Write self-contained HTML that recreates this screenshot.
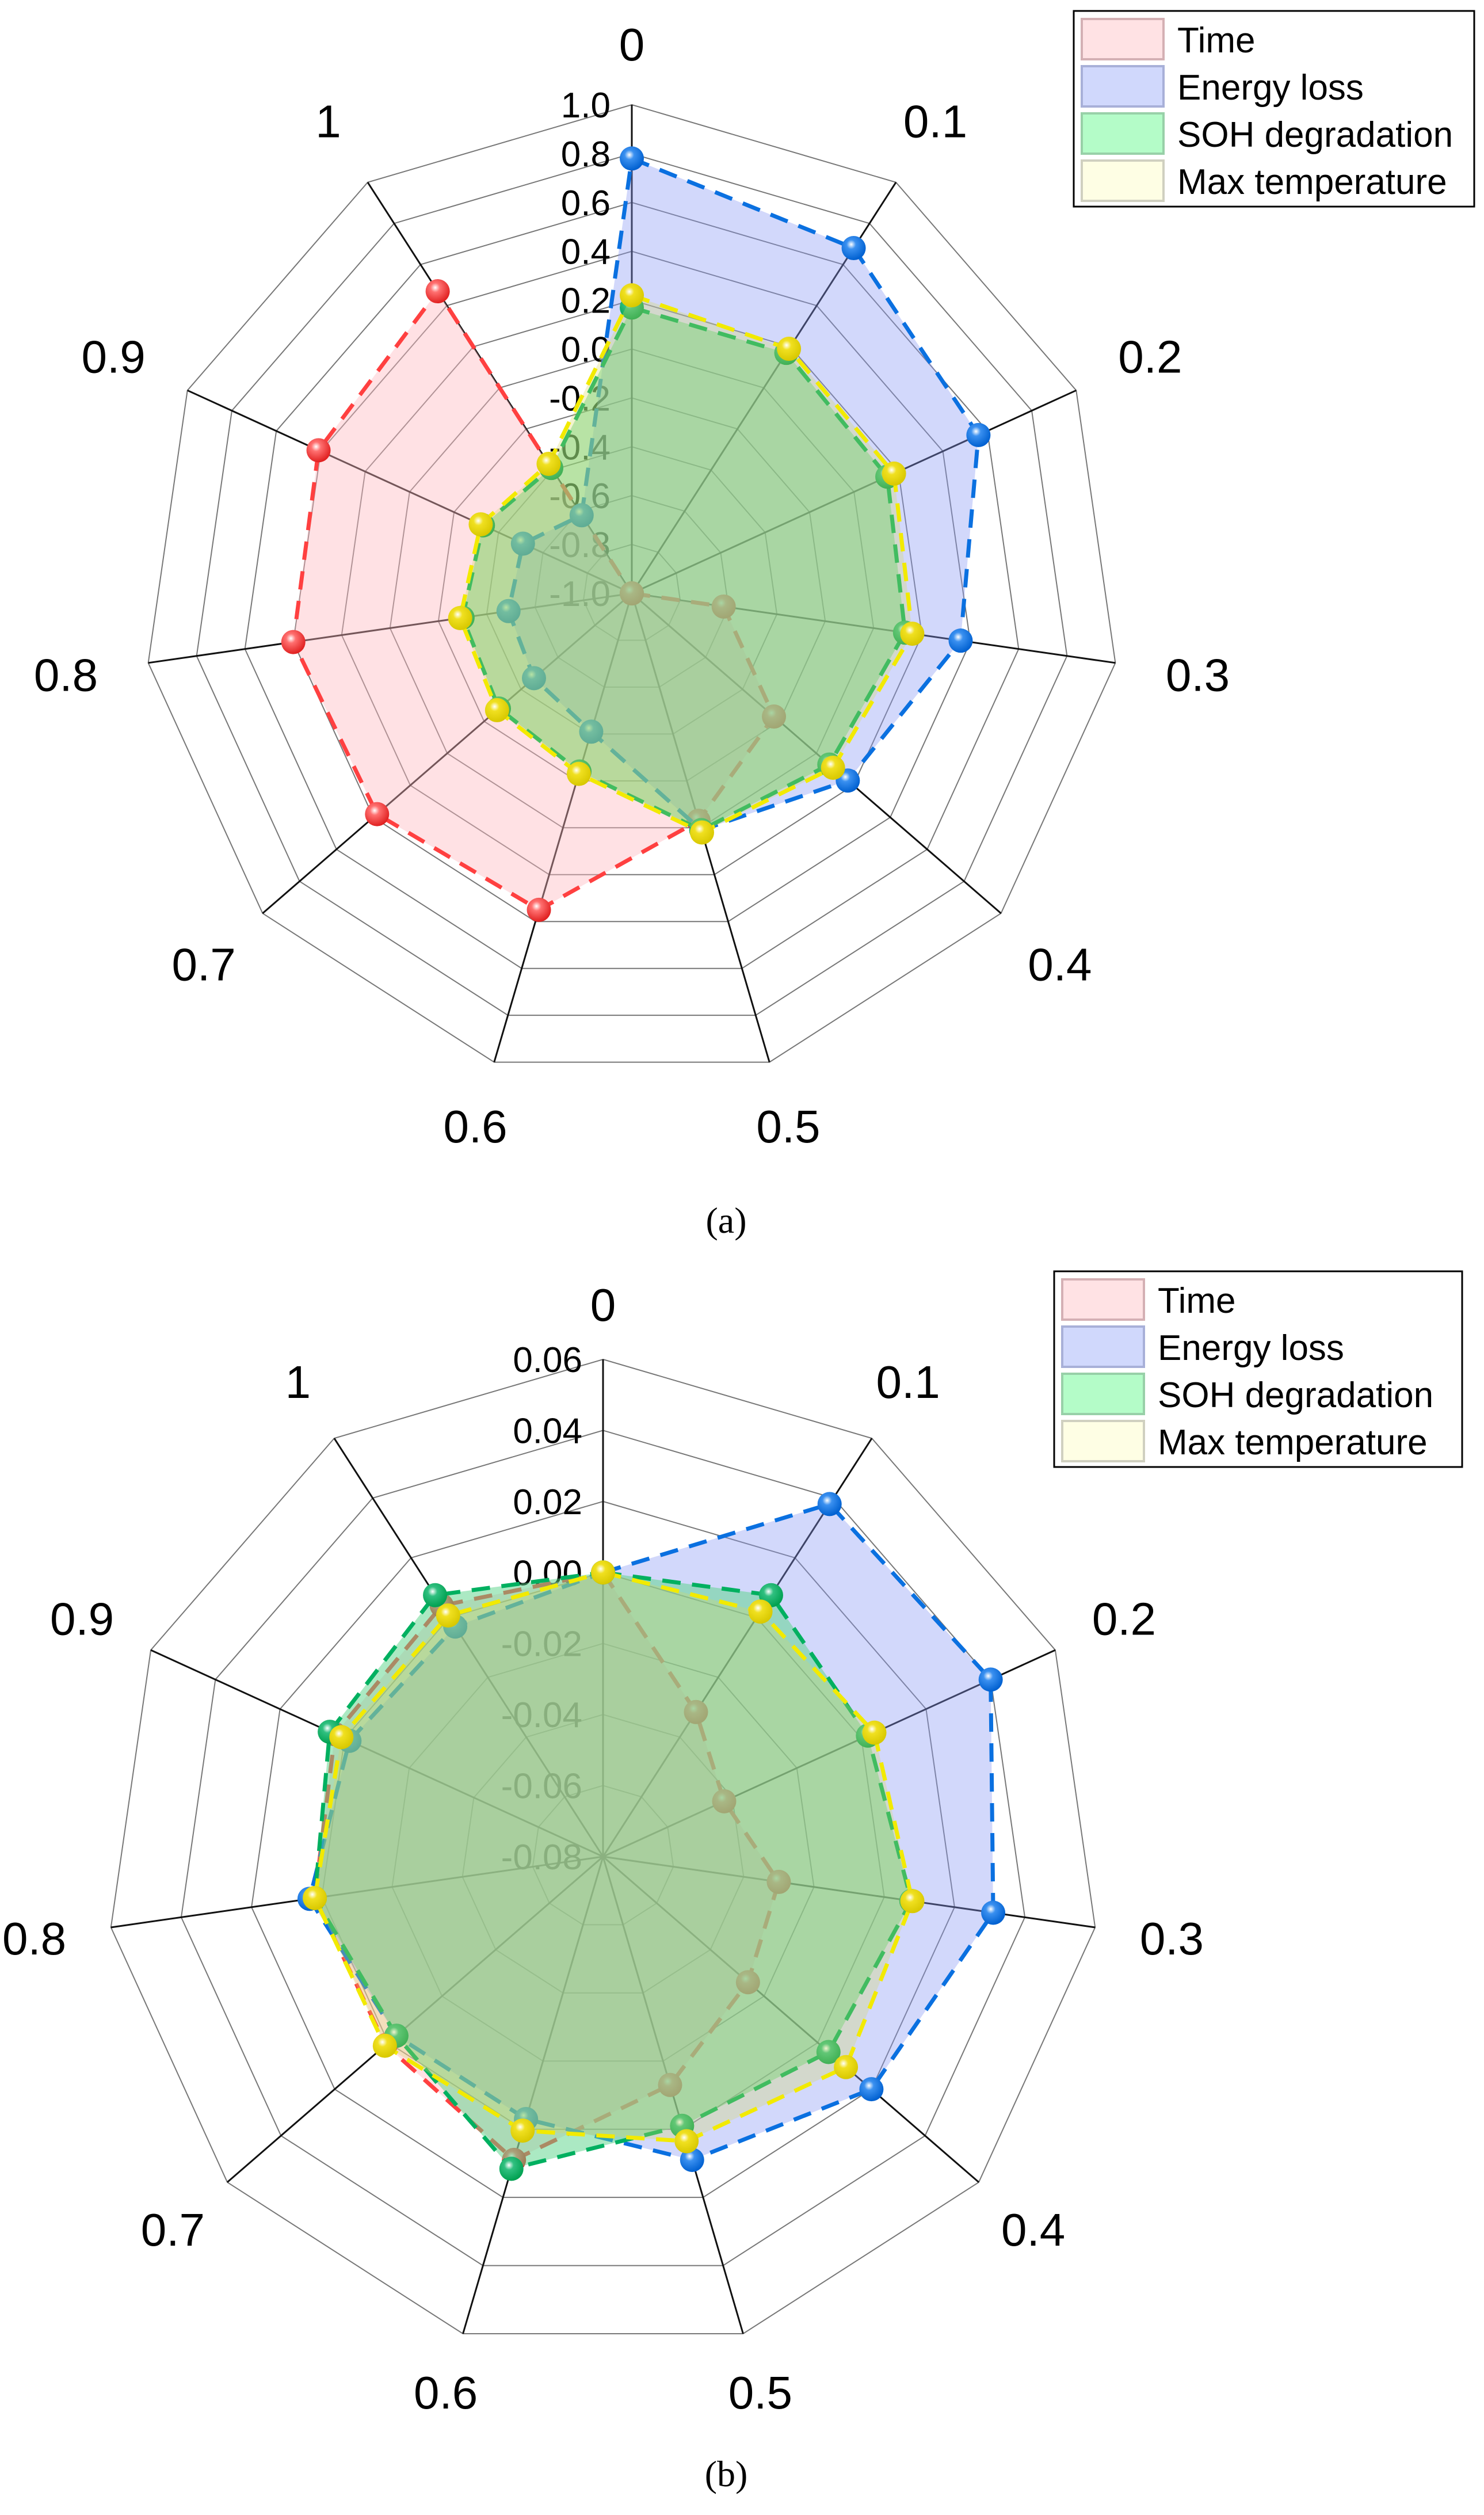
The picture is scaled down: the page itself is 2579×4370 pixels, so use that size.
<!DOCTYPE html>
<html><head><meta charset="utf-8"><style>
html,body{margin:0;padding:0;background:#fff}
svg{display:block}
text{font-family:"Liberation Sans",sans-serif}
</style></head><body>
<svg id="fig" width="2579" height="4370" viewBox="0 0 2579 4370" xmlns="http://www.w3.org/2000/svg">
<defs>
<radialGradient id="gRed" cx="40%" cy="35%" r="65%"><stop offset="0" stop-color="#fff"/><stop offset="0.3" stop-color="#ff7070"/><stop offset="1" stop-color="#e02020"/></radialGradient>
<radialGradient id="gBlue" cx="40%" cy="35%" r="65%"><stop offset="0" stop-color="#fff"/><stop offset="0.3" stop-color="#3a90f0"/><stop offset="1" stop-color="#0060d0"/></radialGradient>
<radialGradient id="gGreen" cx="40%" cy="35%" r="65%"><stop offset="0" stop-color="#fff"/><stop offset="0.3" stop-color="#30c080"/><stop offset="1" stop-color="#00a050"/></radialGradient>
<radialGradient id="gYellow" cx="40%" cy="35%" r="65%"><stop offset="0" stop-color="#fff"/><stop offset="0.3" stop-color="#f0e020"/><stop offset="1" stop-color="#d8c800"/></radialGradient>
</defs>
<rect x="0" y="0" width="2579" height="4370" fill="#fff"/>
<g id="chartA"></g>
<g id="chartB"></g>
<text x="1262" y="2142" font-size="64" text-anchor="middle" style="font-family:'Liberation Serif',serif">(a)</text>
<text x="1262" y="4320" font-size="64" text-anchor="middle" style="font-family:'Liberation Serif',serif">(b)</text>
</svg>
<script>
const categories = ["0","0.1","0.2","0.3","0.4","0.5","0.6","0.7","0.8","0.9","1"];
const seriesNames = ["Time","Energy loss","SOH degradation","Max temperature"];
// Chart (a) values
const timeA   = [-1.0,-1.0,-1.0,-0.62,-0.23,-0.03,0.35,0.38,0.40,0.41,0.47];
const energyA = [0.78,0.68,0.56,0.36,0.17,0.01,-0.41,-0.47,-0.49,-0.51,-0.62];
const sohA    = [0.17,0.17,0.15,0.13,0.07,0.01,-0.24,-0.28,-0.30,-0.33,-0.39];
const tempA   = [0.22,0.19,0.18,0.16,0.09,0.02,-0.23,-0.27,-0.29,-0.32,-0.37];
const ticksA  = ["1.0","0.8","0.6","0.4","0.2","0.0","-0.2","-0.4","-0.6","-0.8","-1.0"];
// Chart (b) values
const timeB   = [0.0,-0.0316,-0.0425,-0.030,-0.026,-0.013,0.009,0.001,0.002,0.003,0.004];
const energyB = [0.0,0.038,0.040,0.031,0.020,0.009,-0.003,-0.003,0.0035,-0.0015,-0.003];
const sohB    = [0.0,0.0075,0.002,0.0077,0.004,-0.001,0.0116,-0.003,0.002,0.0046,0.0075];
const tempB   = [0.0,0.002,0.004,0.008,0.0105,0.0035,0.0004,0.0013,0.002,0.001,0.0007];
const ticksB  = ["0.06","0.04","0.02","0.00","-0.02","-0.04","-0.06","-0.08"];

const NS="http://www.w3.org/2000/svg";
function mk(tag,parent){const e=document.createElementNS(NS,tag);parent.appendChild(e);return e;}

const styles=[
 {fill:"#ffb8be",op:"0.42",stroke:"#ff4040",grad:"url(#gRed)"},
 {fill:"#8898f4",op:"0.38",stroke:"#0a70e0",grad:"url(#gBlue)"},
 {fill:"#58d488",op:"0.5",stroke:"#00b060",grad:"url(#gGreen)"},
 {fill:"#d8d860",op:"0.3",stroke:"#f2ea00",grad:"url(#gYellow)"}
];

function drawRadar(g,cfg){
 const n=categories.length;
 const ang=i=>i*2*Math.PI/n;
 const rScale=v=>(v-cfg.min)/(cfg.max-cfg.min)*cfg.R;
 const pt=(i,r)=>[cfg.cx+r*Math.sin(ang(i)),cfg.cy-r*Math.cos(ang(i))];
 for(let k=1;k<=cfg.rings;k++){
  const r=cfg.R*k/cfg.rings;
  const p=mk("polygon",g);
  p.setAttribute("points",categories.map((c,i)=>pt(i,r).join(",")).join(" "));
  p.setAttribute("fill","none");p.setAttribute("stroke","#777");p.setAttribute("stroke-width","2");
  
  
 }
 categories.forEach((c,i)=>{
  const l=mk("line",g);const e=pt(i,cfg.R);
  l.setAttribute("x1",cfg.cx);l.setAttribute("y1",cfg.cy);l.setAttribute("x2",e[0]);l.setAttribute("y2",e[1]);
  l.setAttribute("stroke","#111");l.setAttribute("stroke-width","3");
  
  
  const lp=pt(i,cfg.R+cfg.lo+Math.abs(Math.sin(ang(i)))*40);
  const t=mk("text",g);t.textContent=c;
  t.setAttribute("x",lp[0]);t.setAttribute("y",lp[1]+28);t.setAttribute("font-size","80");t.setAttribute("text-anchor","middle");
  
  
 });
 cfg.ticks.forEach((tk,k)=>{
  const y=cfg.cy-cfg.R+k*cfg.R/(cfg.ticks.length-1);
  const t=mk("text",g);t.textContent=tk;
  t.setAttribute("x",cfg.tx);t.setAttribute("y",y+22);t.setAttribute("font-size","62");t.setAttribute("text-anchor","end");
  t.setAttribute("fill","#000");
  
  
 });
 cfg.series.forEach((vals,s)=>{
  const pts=vals.map((v,i)=>pt(i,rScale(v)).join(",")).join(" ");
  const f=mk("polygon",g);
  f.setAttribute("points",pts);f.setAttribute("fill",styles[s].fill);f.setAttribute("fill-opacity",styles[s].op);
  f.setAttribute("stroke","none");
  
  
  const p=mk("polygon",g);
  p.setAttribute("points",pts);
  p.setAttribute("fill","none");p.setAttribute("stroke",styles[s].stroke);p.setAttribute("stroke-width","7");
  p.setAttribute("stroke-dasharray","32 20");
  
  
  vals.forEach((v,i)=>{
   const q=pt(i,rScale(v));const c=mk("circle",g);
   c.setAttribute("cx",q[0]);c.setAttribute("cy",q[1]);c.setAttribute("r","21");c.setAttribute("fill",styles[s].grad);
   
   
  });
 });
 const L=cfg.legend;
 const box=mk("rect",g);
 box.setAttribute("x",L.x);box.setAttribute("y",L.y);box.setAttribute("width",L.w);box.setAttribute("height",L.h);
 box.setAttribute("fill","#fff");box.setAttribute("stroke","#000");box.setAttribute("stroke-width","3");
 
 
 const sw=["#ffe2e4","#d0d8fc","#b4fcc8","#fefee4"], sb=["#d4b0b4","#a8b0d8","#98d0a8","#d0d0c0"];
 seriesNames.forEach((nm,s)=>{
  const r=mk("rect",g);
  r.setAttribute("x",L.x+14);r.setAttribute("y",L.y+14+s*82);r.setAttribute("width","142");r.setAttribute("height","70");
  r.setAttribute("fill",sw[s]);r.setAttribute("stroke",sb[s]);r.setAttribute("stroke-width","4");
  
  
  const t=mk("text",g);t.textContent=nm;
  t.setAttribute("x",L.x+180);t.setAttribute("y",L.y+72+s*82);t.setAttribute("font-size","62");
  
  
 });
}
drawRadar(document.getElementById("chartA"),{cx:1098,cy:1031,R:849,min:-1,max:1,rings:10,lo:105,tx:1061,ticks:ticksA,
 series:[timeA,energyA,sohA,tempA],legend:{x:1866,y:19,w:696,h:340}});
drawRadar(document.getElementById("chartB"),{cx:1048,cy:3226,R:864,min:-0.08,max:0.06,rings:7,lo:95,tx:1012,ticks:ticksB,
 series:[timeB,energyB,sohB,tempB],legend:{x:1832,y:2209,w:709,h:340}});
</script>
</body></html>
